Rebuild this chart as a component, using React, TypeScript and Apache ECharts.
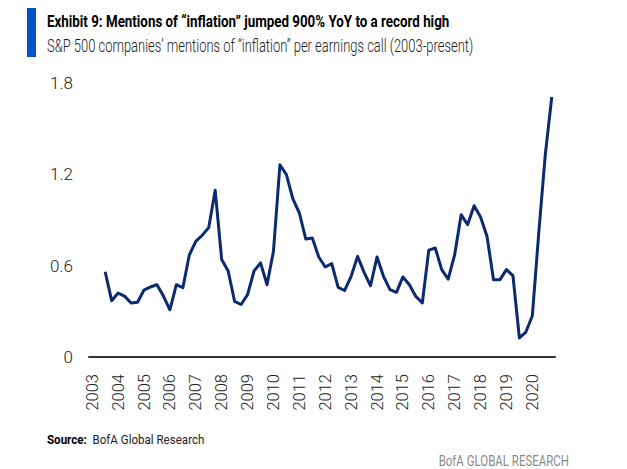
import React, { useEffect, useRef } from "react";
import * as echarts from "echarts";

// Quarterly categories, 2003 Q1 through 2020 Q4
const years = [
  "2003", "2004", "2005", "2006", "2007", "2008", "2009", "2010", "2011",
  "2012", "2013", "2014", "2015", "2016", "2017", "2018", "2019", "2020",
];
const quarters = ["Q1", "Q2", "Q3", "Q4"];

// Mentions of "inflation" per earnings call, one value per quarter
const mentions: (number | null)[] = [
  null, null, 0.56, 0.37, 0.42, 0.40, 0.355, 0.36, 0.44, 0.46, 0.475, 0.40,
  0.31, 0.475, 0.455, 0.67, 0.76, 0.80, 0.85, 1.095, 0.64, 0.565, 0.365, 0.345,
  0.41, 0.565, 0.618, 0.475, 0.694, 1.263, 1.198, 1.038, 0.946, 0.775, 0.782, 0.657,
  0.591, 0.613, 0.458, 0.437, 0.53, 0.661, 0.556, 0.468, 0.657, 0.53, 0.442, 0.425,
  0.526, 0.475, 0.398, 0.355, 0.702, 0.716, 0.574, 0.512, 0.672, 0.935, 0.869, 0.994,
  0.92, 0.792, 0.508, 0.508, 0.574, 0.534, 0.125, 0.164, 0.271, 0.82, 1.33, 1.708,
];

const yTicks = { min: 0, max: 1.8, interval: 0.6 };

const FONT = "Roboto, 'Liberation Sans', sans-serif";

export default function App() {
  const ref = useRef<HTMLDivElement>(null);

  useEffect(() => {
    if (!ref.current) return;
    const chart = echarts.init(ref.current, undefined, { renderer: "svg" });
    const categories = years.flatMap((y) => quarters.map((q) => `${y} ${q}`));

    chart.setOption({
      animation: false,
      backgroundColor: "#ffffff",
      textStyle: { fontFamily: FONT },
      grid: { left: 89, right: 72, top: 83, bottom: 112, containLabel: false },
      xAxis: {
        type: "category",
        data: categories,
        boundaryGap: true,
        axisLine: { show: true, lineStyle: { color: "#333333", width: 2 } },
        axisTick: { show: false },
        axisLabel: {
          interval: 3,
          rotate: 90,
          margin: 17,
          fontSize: 16.5,
          fontWeight: 300,
          color: "#222222",
          fontFamily: FONT,
          formatter: (v: string) => v.slice(0, 4),
        },
        splitLine: { show: false },
      },
      yAxis: {
        type: "value",
        min: yTicks.min,
        max: yTicks.max,
        interval: yTicks.interval,
        axisLine: { show: false },
        axisTick: { show: false },
        splitLine: { show: false },
        axisLabel: {
          margin: 16,
          fontSize: 17,
          fontWeight: 300,
          color: "#222222",
          fontFamily: FONT,
          formatter: (v: number) => (v === 0 ? "0" : v.toFixed(1)),
        },
      },
      series: [
        {
          type: "line",
          data: mentions,
          symbol: "none",
          connectNulls: false,
          lineStyle: { color: "#0b2a6f", width: 3, join: "round" },
        },
      ],
      graphic: [
        {
          type: "rect",
          shape: { x: 27, y: 8, width: 9, height: 49 },
          style: { fill: "#0052cc" },
        },
        {
          type: "text",
          x: 47,
          y: 22,
          scaleX: 0.81,
          style: {
            text: "Exhibit 9: Mentions of “inflation” jumped 900% YoY to a record high",
            fontFamily: FONT,
            fontWeight: "bold",
            fontSize: 16.5,
            fill: "#000000",
            verticalAlign: "middle",
          },
        },
        {
          type: "text",
          x: 47,
          y: 46,
          scaleX: 0.72,
          style: {
            text: "S&P 500 companies’ mentions of “inflation” per earnings call (2003-present)",
            fontFamily: FONT,
            fontWeight: 300,
            fontSize: 18,
            fill: "#222222",
            verticalAlign: "middle",
          },
        },
        {
          type: "text",
          x: 47,
          y: 440,
          scaleX: 0.89,
          style: {
            text: "{b|Source:}  BofA Global Research",
            rich: {
              b: { fontFamily: FONT, fontWeight: "bold", fontSize: 13, fill: "#000000" },
            },
            fontFamily: FONT,
            fontSize: 13,
            fill: "#222222",
            verticalAlign: "middle",
          },
        },
        {
          type: "text",
          x: 569,
          y: 461,
          scaleX: 0.82,
          style: {
            text: "BofA GLOBAL RESEARCH",
            fontFamily: FONT,
            fontSize: 14,
            fill: "#8a8a8a",
            align: "right",
            verticalAlign: "middle",
          },
        },
      ],
    });

    return () => chart.dispose();
  }, []);

  return (
    <div
      ref={ref}
      style={{ position: "fixed", left: 0, top: 0, width: 627, height: 469 }}
    />
  );
}
